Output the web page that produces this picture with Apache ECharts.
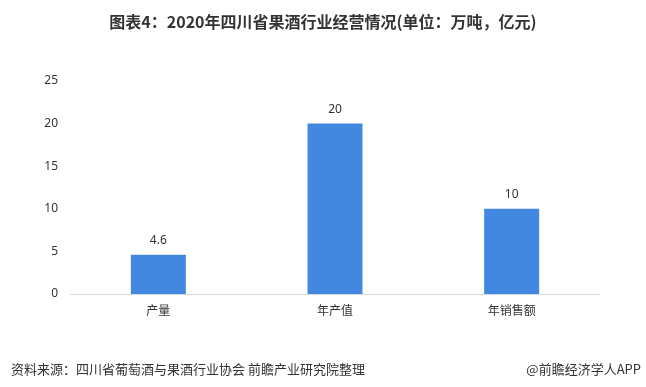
<!DOCTYPE html>
<html><head><meta charset="utf-8">
<script src="https://cdn.jsdelivr.net/npm/echarts@6/dist/echarts.min.js"></script>
<style>html,body{margin:0;padding:0;background:#fff}#c{width:646px;height:387px}</style>
</head><body><div id="c"></div>
<script>
const categories = ['产量', '年产值', '年销售额'];
const values = [4.6, 20, 10];
const yTicks = [0, 5, 10, 15, 20, 25];
const chart = echarts.init(document.getElementById('c'));
chart.setOption({
  animation: false,
  title: [{
    text: '图表4：2020年四川省果酒行业经营情况(单位：万吨，亿元)',
    left: 'center', top: 9,
    textStyle: {fontSize: 16, fontWeight: 'bold', color: '#333', fontFamily: 'Noto Sans CJK SC'}
  }, {
    text: '资料来源：四川省葡萄酒与果酒行业协会 前瞻产业研究院整理',
    left: 6, top: 358,
    textStyle: {fontSize: 13, fontWeight: 'normal', color: '#333', fontFamily: 'Noto Sans CJK SC'}
  }, {
    text: '@前瞻经济学人APP',
    right: 0, top: 358,
    textStyle: {fontSize: 13, fontWeight: 'normal', color: '#333', fontFamily: 'Noto Sans CJK SC'}
  }],
  grid: {left: 70, right: 46, top: 81, bottom: 93, containLabel: false},
  xAxis: {
    type: 'category', data: categories,
    axisLine: {lineStyle: {color: '#d9d9d9'}},
    axisTick: {show: false},
    axisLabel: {fontSize: 12, color: '#333', margin: 10, fontFamily: 'Noto Sans CJK SC'}
  },
  yAxis: {
    type: 'value', min: yTicks[0], max: yTicks[yTicks.length - 1], interval: 5,
    splitLine: {show: false}, axisLine: {show: false}, axisTick: {show: false},
    axisLabel: {fontSize: 12, color: '#333', margin: 12, fontFamily: 'Noto Sans'}
  },
  series: [{
    type: 'bar', data: values, barWidth: 55,
    itemStyle: {color: '#4287E0'},
    label: {show: true, position: 'top', distance: 8, fontSize: 12, color: '#333', fontFamily: 'Noto Sans'}
  }]
});
</script></body></html>
